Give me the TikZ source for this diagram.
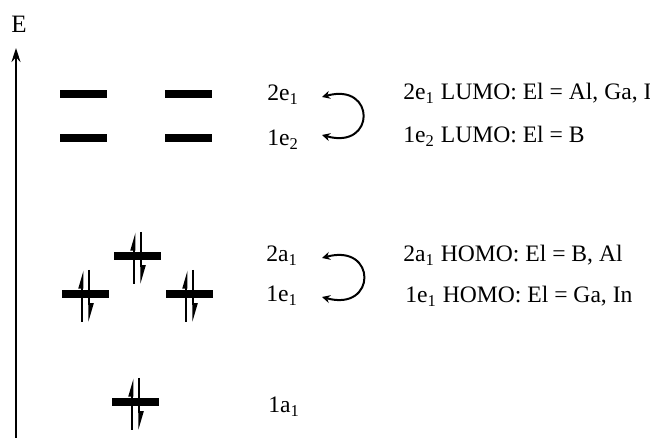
\documentclass[tikz,border=0pt]{standalone}
\usepackage{fontspec}
\setmainfont{Liberation Serif}
\usetikzlibrary{calc,positioning,arrows.meta}

% electron pair on a level node
\newcommand{\elpair}[1]{%
  \draw[spinline] ($(#1.center)+(-3.5,-28)$) -- ($(#1.center)+(-3.5,24)$);
  \draw[spinline] ($(#1.center)+(3.5,24)$) -- ($(#1.center)+(3.5,-28)$);
}

\begin{document}
\begin{tikzpicture}[x=0.5pt, y=0.5pt,
    font=\fontsize{11.8}{13}\selectfont,
    level/.style={fill=black, inner sep=0pt, minimum width=23.5pt, minimum height=3.8pt},
    lab/.style={anchor=base west, inner sep=0pt},
    spinline/.style={line width=1pt, -{Triangle[left, length=7.5pt, width=4pt]}},
    swap/.style={line width=1pt, {Stealth[length=4pt, width=4pt]}-{Stealth[length=4pt, width=4pt]}}]
  \useasboundingbox (0,0) rectangle (650,438);
  % axis
  \node[lab, font=\fontsize{12.5}{14}\selectfont] (elab) at (11,405) {E};
  \coordinate (ax0) at (16,0);
  \coordinate (ax1) at (16,390);
  \draw[line width=0.9pt, -{Stealth[length=7pt, width=4.5pt]}] (ax0) -- (ax1);
  % empty levels
  \node[level] (e1a) at (84,344) {};
  \node[level] (e1b) at (189,344) {};
  \node[level] (e2a) at (84,300) {};
  \node[level] (e2b) at (189,300) {};
  % filled levels
  \node[level] (a2) at (138,182) {};
  \node[level] (e1la) at (86,144) {};
  \node[level] (e1lb) at (190,144) {};
  \node[level] (a1) at (136,36) {};
  \elpair{a2}
  \elpair{e1la}
  \elpair{e1lb}
  \elpair{a1}
  % level labels
  \node[lab] (l2e1) at (267,337) {2e\textsubscript{1}};
  \node[lab] (l1e2) at (267,292) {1e\textsubscript{2}};
  \node[lab] (l2a1) at (266,176) {2a\textsubscript{1}};
  \node[lab] (l1e1) at (266,136) {1e\textsubscript{1}};
  \node[lab] (l1a1) at (268,25) {1a\textsubscript{1}};
  % level swaps
  \coordinate (c1t) at (322,341);
  \coordinate (c1b) at (322,303);
  \coordinate (c2t) at (322,180);
  \coordinate (c2b) at (322,141);
  \draw[swap] (c1t) .. controls (376,356) and (376,288) .. (c1b);
  \draw[swap] (c2t) .. controls (377,195) and (377,126) .. (c2b);
  % notes
  \node[lab] (n1) at (403,338) {2e\textsubscript{1} LUMO: El = Al, Ga, I};
  \node[lab] (n2) at (403,295) {1e\textsubscript{2} LUMO: El = B};
  \node[lab] (n3) at (403,176) {2a\textsubscript{1} HOMO: El = B, Al};
  \node[lab] (n4) at (405,135) {1e\textsubscript{1} HOMO: El = Ga, In};
\end{tikzpicture}
\end{document}
